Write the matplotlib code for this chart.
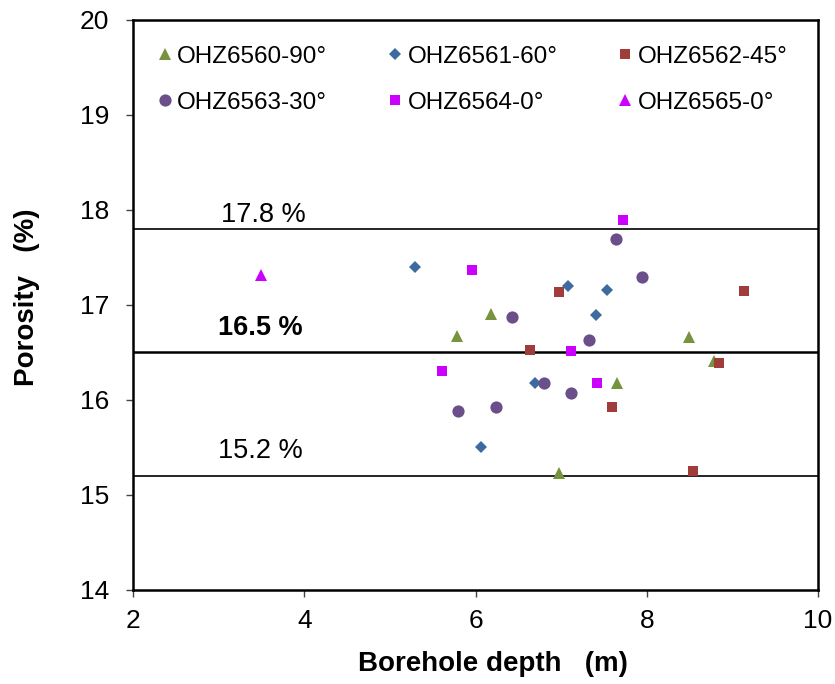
import numpy as np
import matplotlib
matplotlib.use('Agg')
import matplotlib.pyplot as plt

plt.rcParams['font.family'] = ['Liberation Sans', 'DejaVu Sans']

# datos (profundidad en m, porosidad en %)
x_6560 = [5.78, 6.18, 6.98, 7.65, 8.49, 8.78]
y_6560 = [16.67, 16.91, 15.23, 16.18, 16.66, 16.41]

x_6561 = [5.29, 6.07, 6.70, 7.08, 7.41, 7.53]
y_6561 = [17.40, 15.50, 16.18, 17.20, 16.90, 17.16]

x_6562 = [6.64, 6.98, 7.59, 8.54, 8.84, 9.14]
y_6562 = [16.53, 17.14, 15.93, 15.25, 16.39, 17.15]

x_6563 = [5.79, 6.24, 6.43, 6.80, 7.11, 7.33, 7.64, 7.95]
y_6563 = [15.88, 15.93, 16.87, 16.18, 16.07, 16.63, 17.69, 17.29]

x_6564 = [5.61, 5.96, 7.11, 7.42, 7.72]
y_6564 = [16.30, 17.37, 16.52, 16.18, 17.90]

x_6565 = [3.50]
y_6565 = [17.32]

limites = [17.8, 16.5, 15.2]
etiquetas = ['17.8 %', '16.5 %', '15.2 %']

fig = plt.figure(figsize=(8.35, 6.84), dpi=100)
ax = fig.add_axes([133/835, 94/684, 685/835, 570/684])

# lineas horizontales de referencia
for v, lw in zip(limites, [1.2, 1.8, 1.2]):
    ax.axhline(v, color='black', lw=lw, zorder=1)

ax.text(3.03, 17.87, etiquetas[0], fontsize=19.5, ha='left', va='baseline')
ax.text(2.99, 16.68, etiquetas[1], fontsize=19.5, fontweight='bold', ha='left', va='baseline')
ax.text(2.99, 15.39, etiquetas[2], fontsize=19.5, ha='left', va='baseline')

# series
h0, = ax.plot(x_6560, y_6560, ls='none', marker='^', ms=8.8, mew=0, color='#77933C', label='OHZ6560-90°')
h1, = ax.plot(x_6561, y_6561, ls='none', marker='D', ms=6.3, mew=0, color='#3D6B9F', label='OHZ6561-60°')
h2, = ax.plot(x_6562, y_6562, ls='none', marker='s', ms=7.6, mew=0, color='#A03D3A', label='OHZ6562-45°')
h3, = ax.plot(x_6563, y_6563, ls='none', marker='o', ms=8.8, mew=0, color='#6B4F8B', label='OHZ6563-30°')
h4, = ax.plot(x_6564, y_6564, ls='none', marker='s', ms=7.6, mew=0, color='#CC00FF', label='OHZ6564-0°')
h5, = ax.plot(x_6565, y_6565, ls='none', marker='^', ms=8.8, mew=0, color='#CC00FF', label='OHZ6565-0°')

ax.set_xlim(2, 10)
ax.set_ylim(14, 20)
ax.set_xticks([2, 4, 6, 8, 10])
ax.set_yticks([14, 15, 16, 17, 18, 19, 20])
ax.tick_params(direction='out', length=5, width=1, labelsize=19, color='#444444')
ax.tick_params(axis='y', pad=12)
ax.tick_params(axis='x', pad=9)

for s in ax.spines.values():
    s.set_linewidth(1.8)
    s.set_color('black')

ax.set_xlabel('Borehole depth   (m)', fontsize=20, fontweight='bold')
ax.set_ylabel('Porosity   (%)', fontsize=20, fontweight='bold')
ax.xaxis.set_label_coords(0.526, -0.107)
ax.yaxis.set_label_coords(-0.136, 0.514)

# orden por filas en la leyenda
hs = [h0, h3, h1, h4, h2, h5]
ax.legend(handles=hs, loc='upper left', bbox_to_anchor=(0.036, 0.955), ncol=3, frameon=False,
          fontsize=17.5, handlelength=0.6, handletextpad=0.2, columnspacing=2.5,
          labelspacing=1.0, borderpad=0, borderaxespad=0, numpoints=1)

plt.savefig('out.png', dpi=100)
